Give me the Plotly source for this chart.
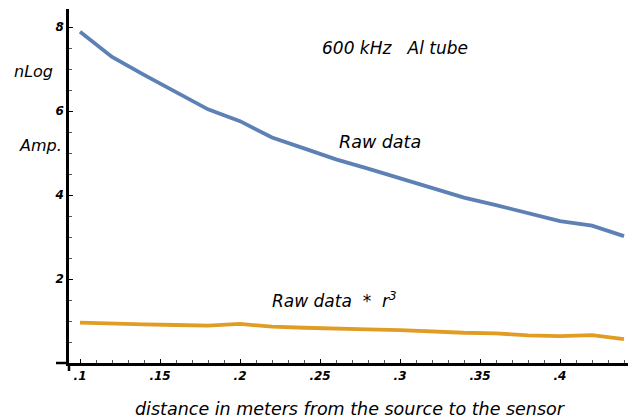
import plotly.graph_objects as go

distance = [0.10, 0.12, 0.14, 0.16, 0.18, 0.20, 0.22, 0.24, 0.26, 0.28,
            0.30, 0.32, 0.34, 0.36, 0.38, 0.40, 0.42, 0.44]
raw_data = [7.89, 7.29, 6.86, 6.46, 6.04, 5.76, 5.37, 5.11, 4.85, 4.63,
            4.40, 4.15, 3.94, 3.76, 3.56, 3.38, 3.27, 3.02]
raw_r3 = [0.96, 0.93, 0.92, 0.905, 0.89, 0.93, 0.865, 0.84, 0.81, 0.80,
          0.785, 0.745, 0.72, 0.705, 0.66, 0.64, 0.665, 0.57]

x_tickvals = [0.10, 0.15, 0.20, 0.25, 0.30, 0.35, 0.40]
x_ticktext = [".1", ".15", ".2", ".25", ".3", ".35", ".4"]
y_tickvals = [2, 4, 6, 8]
y_ticktext = ["2", "4", "6", "8"]

BLUE = "#5E81B5"
ORANGE = "#E19C24"
FONT = "DejaVu Sans"

fig = go.Figure()
fig.add_trace(go.Scatter(x=distance, y=raw_data, mode="lines",
                         line=dict(color=BLUE, width=3.8), showlegend=False,
                         cliponaxis=False))
fig.add_trace(go.Scatter(x=distance, y=raw_r3, mode="lines",
                         line=dict(color=ORANGE, width=3.8), showlegend=False,
                         cliponaxis=False))

tickfont = dict(family=FONT, size=12, color="black", style="italic", weight="bold")

# page body has an 8px margin; figure sized so it fits the 636x420 window
PW, PH = 567, 354

fig.update_layout(
    width=628, height=412,
    margin=dict(l=61, r=0, t=1, b=57, autoexpand=False),
    paper_bgcolor="white", plot_bgcolor="white",
    xaxis=dict(range=[0.0931, 0.4475], showgrid=False, zeroline=False,
               showline=True, linecolor="black", linewidth=2.5,
               tickvals=x_tickvals, ticktext=x_ticktext,
               ticks="inside", ticklen=4, tickwidth=1, tickcolor="black",
               minor=dict(dtick=0.01, tick0=0.1, ticks="inside", ticklen=3,
                          tickwidth=1, tickcolor="#555"),
               tickfont=tickfont, automargin=False),
    yaxis=dict(range=[0, 8.43], showgrid=False, zeroline=False,
               showline=True, linecolor="black", linewidth=2.5,
               tickvals=y_tickvals, ticktext=y_ticktext,
               ticks="inside", ticklen=4, tickwidth=1, tickcolor="black",
               minor=dict(dtick=0.5, tick0=0, ticks="inside", ticklen=3,
                          tickwidth=1, tickcolor="#555"),
               tickfont=tickfont, automargin=False),
    shapes=[
        dict(type="line", xref="paper", yref="paper", x0=-13/PW, x1=0,
             y0=0, y1=0, line=dict(color="black", width=2.5)),
        dict(type="line", xref="paper", yref="paper", x0=0, x1=0,
             y0=-8/PH, y1=0, line=dict(color="black", width=2.5)),
    ],
    annotations=[
        dict(text="nLog", xref="paper", yref="paper", x=-36/PW, y=291/PH,
             xanchor="center", yanchor="middle",
             showarrow=False, font=dict(family=FONT, size=16, color="black", style="italic")),
        dict(text="Amp.", xref="paper", yref="paper", x=-29/PW, y=218/PH,
             xanchor="center", yanchor="middle",
             showarrow=False, font=dict(family=FONT, size=16, color="black", style="italic")),
        dict(text="distance in meters from the source to the sensor", xref="paper", yref="paper",
             x=281/PW, y=-46/PH, xanchor="center", yanchor="middle", showarrow=False,
             font=dict(family=FONT, size=17.5, color="black", style="italic")),
        dict(text="600 kHz   Al tube", xref="x", yref="y", x=0.297, y=7.5,
             xanchor="center", yanchor="middle",
             showarrow=False, font=dict(family=FONT, size=17, color="black", style="italic")),
        dict(text="Raw data", xref="x", yref="y", x=0.2875, y=5.26,
             xanchor="center", yanchor="middle",
             showarrow=False, font=dict(family=FONT, size=17.5, color="black", style="italic")),
        dict(text="Raw data  *  r<sup>3</sup>", xref="x", yref="y", x=0.259, y=1.5,
             xanchor="center", yanchor="middle",
             showarrow=False, font=dict(family=FONT, size=17, color="black", style="italic")),
    ],
)

fig.write_html("out.html")
